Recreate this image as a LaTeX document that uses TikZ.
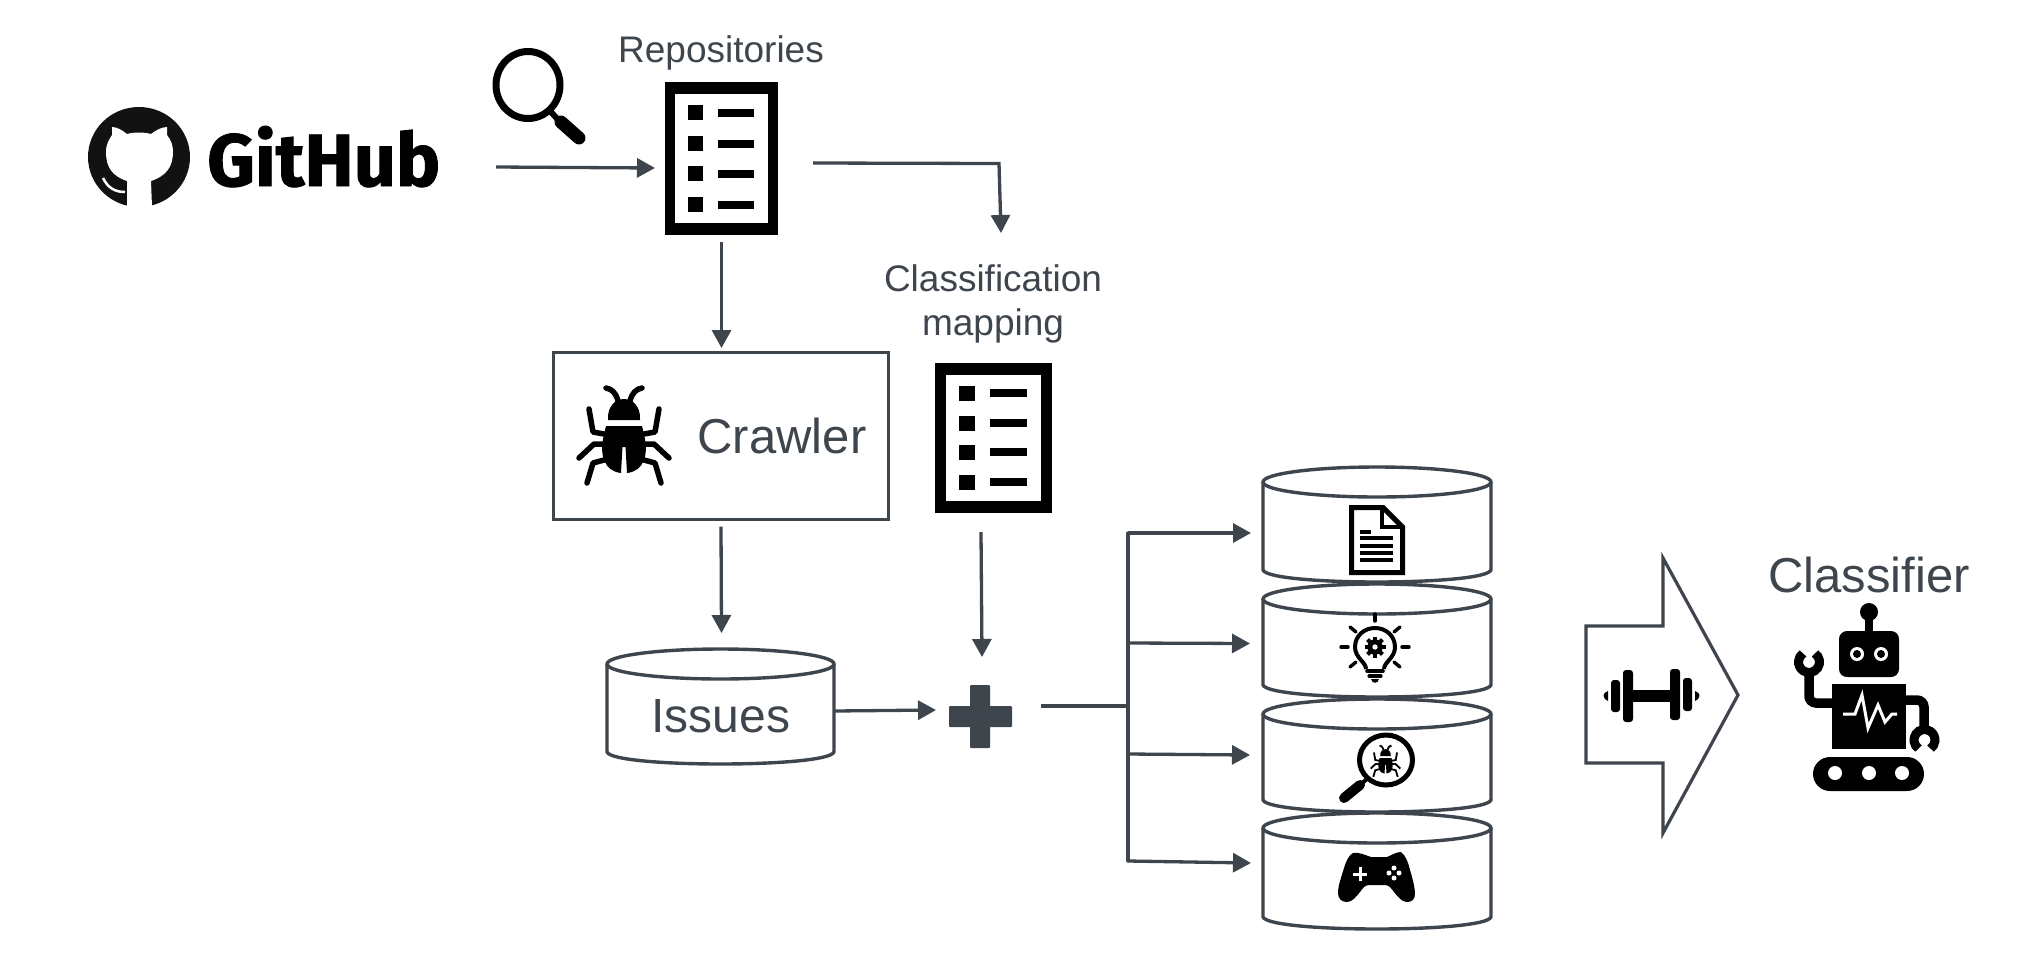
\documentclass[tikz,border=0pt]{standalone}
\usepackage{fontspec}
\usetikzlibrary{arrows.meta,calc}
\setmainfont{Liberation Sans}
\newfontfamily\ghfont[FakeBold=1.2]{Fira Sans Bold}
\definecolor{slate}{HTML}{3E454D}
\tikzset{
  conn/.style={draw=slate,line width=3.3pt,-{Triangle[length=18pt,width=19pt]}},
  plainline/.style={draw=slate,line width=3.3pt},
  cyl/.style={draw=slate,line width=3.4pt,fill=white,line join=round},
  lbl/.style={text=slate,inner sep=0pt,anchor=base,align=center},
  area/.style={inner sep=0pt,outer sep=0pt,draw=none},
  ink/.style={fill=black,draw=none}
}
% name, left, right, top, side end, bottom
\newcommand\cylinder[6]{%
  \path[cyl] (#2,{#4+15}) -- (#2,#5) .. controls ({#2+6},{#5+(#6-#5)*4/3}) and ({#3-6},{#5+(#6-#5)*4/3}) .. (#3,#5) -- (#3,{#4+15});
  \path[cyl] ({(#2+#3)/2},{#4+15}) ellipse [x radius={(#3-#2)/2},y radius=15];
  \node[area,minimum width={(#3-#2)*1pt},minimum height={(#6-#4)*1pt}] (#1) at ({(#2+#3)/2},{(#4+#6)/2}) {};
}
\newcommand\listicon[1]{%
  \begin{scope}[shift={(#1)}]
  \fill[black] (0,0) rectangle (113,153);
  \fill[white] (10,12) rectangle (103,141);
  \foreach \yy in {23,54,84,115}{
    \fill[black] (23,\yy) rectangle (38,{\yy+15});
    \fill[black] (53,{\yy+4}) rectangle (89,{\yy+12});
  }
  \end{scope}
}
\newcommand\bugicon{%
  \fill[black] (-16,-15) .. controls (-17,-28) and (-9,-36) .. (0,-36) .. controls (9,-36) and (17,-28) .. (16,-15) -- cycle;
  \fill[black] (-18,-9) -- (18,-9) -- (21,4) .. controls (24,20) and (20,36) .. (3,38) -- (1.5,12) -- (-1.5,12) -- (-3,38) .. controls (-20,36) and (-24,20) .. (-21,4) -- cycle;
  \foreach \s in {-1,1}{
    \draw[black,line width=5.5pt,line cap=round,line join=round]
      (\s*6,-34) .. controls (\s*8,-42) and (\s*12,-46) .. (\s*18,-47);
    \draw[black,line width=5.5pt,line cap=round,line join=round]
      (\s*35,-26) -- (\s*31,-3) -- (\s*20,-1);
    \draw[black,line width=5.5pt,line cap=round,line join=round]
      (\s*45,23) -- (\s*30,9) -- (\s*20,9);
    \draw[black,line width=5.5pt,line cap=round,line join=round]
      (\s*37,48) -- (\s*31,28) -- (\s*20,25);
  }
}
\begin{document}
\begin{tikzpicture}[x=1pt,y=-1pt]
\useasboundingbox (0,0) rectangle (2030,970);
% GitHub
\node[area,minimum width=352pt,minimum height=101pt] (github) at (264,157) {};
\fill[black!93] (139,157) ellipse [x radius=51,y radius=50];
\fill[white] (127,207) -- (127,181) .. controls (112,176) and (106,167) .. (106,152) .. controls (106,144) and (109,140) .. (112,135) -- (112,127) .. controls (118,127) and (123,131) .. (127,134) .. controls (134,132) and (144,132) .. (151,134) .. controls (155,131) and (161,127) .. (167,127) -- (167,135) .. controls (171,140) and (173,145) .. (173,152) .. controls (173,167) and (166,176) .. (151,181) -- (152,207) -- cycle;
\draw[white,line width=2.5pt] (103,178) .. controls (108,188) and (115,192) .. (125,192);
\node[inner sep=0pt,anchor=base west] (ghtext) at (207,186) {\resizebox{233pt}{!}{\ghfont GitHub}};
% magnifier
\draw[black,line width=7pt] (528,85) ellipse [x radius=32,y radius=33.5];
\draw[black,line width=6pt] (551,112) -- (561,123);
\draw[black,line width=13pt,line cap=round] (561,122) -- (579,138);
% repositories
\node[lbl,font=\fontsize{37}{40}\selectfont] (repolabel) at (721,62) {Repositories};
\listicon{665,82}
\node[area,minimum width=113pt,minimum height=153pt] (repos) at (721.5,158.5) {};
% crawler
\node[draw=slate,line width=3pt,minimum width=335pt,minimum height=167pt,inner sep=0pt] (crawler) at (721,435.5) {};
\begin{scope}[shift={(624,435)}] \bugicon \end{scope}
\node[lbl,font=\fontsize{49}{52}\selectfont] (crawlerlabel) at (782,453) {Crawler};
% mapping
\node[lbl,font=\fontsize{37}{44}\selectfont] (maplabel1) at (993,291) {Classification};
\node[lbl,font=\fontsize{37}{44}\selectfont] (maplabel2) at (993,335) {mapping};
\begin{scope}[shift={(935,363)}]
  \fill[black] (0,0) rectangle (117,150);
  \fill[white] (11,12) rectangle (106,138);
  \foreach \yy in {23,53,82,112}{
    \fill[black] (24,\yy) rectangle (40,{\yy+15});
    \fill[black] (55,{\yy+3}) rectangle (92,{\yy+11});
  }
\end{scope}
\node[area,minimum width=117pt,minimum height=150pt] (mapping) at (993.5,438) {};
% issues
\cylinder{issues}{607}{834}{649}{752}{764}
\node[lbl,font=\fontsize{48}{52}\selectfont] (issueslabel) at (721,732) {Issues};
% plus
\node[area,minimum width=63pt,minimum height=63pt] (plus) at (980.5,716.5) {};
\fill[slate,rounded corners=1pt] (970,685) rectangle (990,748);
\fill[slate,rounded corners=1pt] (949,706) rectangle (1012,727);
% datasets
\cylinder{docs}{1263}{1491}{467}{570}{582}
\cylinder{ideas}{1263}{1491}{584}{685}{697}
\cylinder{bugs}{1263}{1491}{699}{800}{812}
\cylinder{games}{1263}{1491}{813}{917}{929}
% doc icon
\draw[black,line width=5pt,line join=miter,fill=white] (1351.5,507.5) -- (1383,507.5) -- (1402.5,527) -- (1402.5,572.5) -- (1351.5,572.5) -- cycle;
\draw[black,line width=4.5pt] (1382,507) -- (1382,527) -- (1403,527);
\foreach \yy in {538,546,553,560}{\draw[black,line width=3.3pt] (1360,\yy) -- (1393,\yy);}
\draw[black,line width=3.3pt] (1360,532) -- (1371,532);
% bulb icon
\begin{scope}[shift={(1375,647)}]
  \draw[black,line width=4pt] (-9,22) .. controls (-9,15) and (-20,11) .. (-20,0) .. controls (-20,-11) and (-11,-19) .. (0,-19) .. controls (11,-19) and (20,-11) .. (20,0) .. controls (20,11) and (9,15) .. (9,22);
  \draw[black,line width=3.6pt,line cap=round] (-8,24) -- (8,24);
  \draw[black,line width=3.2pt,line cap=round] (-6,29) -- (6,29);
  \fill[black] (-4,32) -- (4,32) .. controls (3,37) and (-3,37) .. (-4,32) -- cycle;
  \foreach \a in {0,45,...,315}{\draw[black,line width=4pt] (\a:6) -- (\a:10.5);}
  \draw[black,line width=5pt] (0,0) circle [radius=5.5];
  \draw[black,line width=3.4pt,line cap=round] (0,-33) -- (0,-26);
  \draw[black,line width=3.4pt,line cap=round] (-34,0) -- (-27,0);
  \draw[black,line width=3.4pt,line cap=round] (27,0) -- (34,0);
  \draw[black,line width=3.4pt,line cap=round] (-25,-20) -- (-19,-15);
  \draw[black,line width=3.4pt,line cap=round] (25,-20) -- (19,-15);
  \draw[black,line width=3.4pt,line cap=round] (-25,20) -- (-19,15);
  \draw[black,line width=3.4pt,line cap=round] (25,20) -- (19,15);
\end{scope}
% bug search icon
\draw[black,line width=5pt] (1386,760) ellipse [x radius=26.5,y radius=25];
\draw[black,line width=4pt] (1368,778) -- (1360,785);
\draw[black,line width=10pt,line cap=round] (1360,785) -- (1344,798);
\begin{scope}[shift={(1385.5,761)},scale=0.33]
  \fill[black] (-16,-15) .. controls (-17,-28) and (-9,-36) .. (0,-36) .. controls (9,-36) and (17,-28) .. (16,-15) -- cycle;
  \fill[black] (-18,-9) -- (18,-9) -- (21,4) .. controls (24,20) and (20,36) .. (3,38) -- (1.5,12) -- (-1.5,12) -- (-3,38) .. controls (-20,36) and (-24,20) .. (-21,4) -- cycle;
  \foreach \s in {-1,1}{
    \draw[black,line width=1.8pt] (\s*6,-34) .. controls (\s*8,-42) and (\s*12,-46) .. (\s*18,-47);
    \draw[black,line width=1.8pt] (\s*35,-26) -- (\s*31,-3) -- (\s*20,-1);
    \draw[black,line width=1.8pt] (\s*45,23) -- (\s*30,9) -- (\s*20,9);
    \draw[black,line width=1.8pt] (\s*37,48) -- (\s*31,28) -- (\s*20,25);
  }
\end{scope}
% gamepad
\fill[black] (1353,853) .. controls (1359,852) and (1365,855) .. (1371,857) -- (1387,857) .. controls (1392,855) and (1396,852) .. (1401,852) .. controls (1406,856) and (1408,862) .. (1410,870) .. controls (1413,880) and (1415,888) .. (1415,894) .. controls (1415,900) and (1411,902) .. (1407,902) .. controls (1402,902) and (1398,897) .. (1394,892) .. controls (1391,888) and (1389,885) .. (1385,885) -- (1369,885) .. controls (1365,885) and (1363,888) .. (1360,892) .. controls (1356,897) and (1352,902) .. (1347,902) .. controls (1342,902) and (1338,899) .. (1338,893) .. controls (1338,886) and (1341,878) .. (1344,868) .. controls (1346,861) and (1349,855) .. (1353,853) -- cycle;
\draw[white,line width=3pt] (1353,874) -- (1367,874);
\draw[white,line width=3pt] (1360,867) -- (1360,881);
\foreach \dx/\dy in {5/0,-5/0,0/5,0/-5}{\fill[white] ({1394+\dx},{873+\dy}) circle [radius=2.5];}
% big arrow
\node[area,minimum width=154pt,minimum height=284pt] (train) at (1663,695) {};
\draw[slate,line width=3.2pt,line join=miter] (1586,626) -- (1663,626) -- (1663,558) -- (1738,695) -- (1663,833) -- (1663,763) -- (1586,763) -- cycle;
% dumbbell
\fill[black] (1632,690) rectangle (1672,702);
\fill[black,rounded corners=3pt] (1623,670) rectangle (1633,722);
\fill[black,rounded corners=3pt] (1670,669) rectangle (1680,720);
\fill[black,rounded corners=3pt] (1611,680) rectangle (1620,712);
\fill[black,rounded corners=3pt] (1683,678) rectangle (1692,711);
\fill[black] (1608,691) .. controls (1602,693) and (1602,698) .. (1608,701) -- cycle;
\fill[black] (1695,691) .. controls (1701,693) and (1701,698) .. (1695,701) -- cycle;
% classifier
\node[lbl,font=\fontsize{49}{52}\selectfont] (classifierlabel) at (1869,592) {Classifier};
\node[area,minimum width=145pt,minimum height=188pt] (robot) at (1867,697) {};
\fill[black] (1869,612) circle [radius=9];
\fill[black] (1865,615) rectangle (1873,635);
\fill[black,rounded corners=8pt] (1839,631) rectangle (1899,677);
\foreach \ex in {1857,1881}{
  \fill[white] (\ex,654) circle [radius=7];
  \fill[black] (\ex,654) circle [radius=4];
}
\fill[black] (1832,684) rectangle (1906,749);
\draw[white,line width=3pt,line join=miter] (1843,714) -- (1855,714) -- (1862,695) -- (1868,728) -- (1878,705) -- (1885,722) -- (1892,714) -- (1897,714);
\fill[black,rounded corners=17pt] (1813,757) rectangle (1924,791);
\foreach \hx in {1835,1869,1902}{\fill[white] (\hx,773) circle [radius=7];}
% robot arms
\draw[black,line width=9.5pt,rounded corners=7pt] (1834,703) -- (1809,703) -- (1809,672);
\draw[black,line width=9.5pt,rounded corners=7pt] (1904,700) -- (1924,700) -- (1924,729);
\draw[black,line width=9pt] (1809,662) ++(-55:10.5) arc [start angle=-55,end angle=235,radius=10.5];
\draw[black,line width=9pt] (1924.5,740) ++(125:10.5) arc [start angle=125,end angle=415,radius=10.5];
% connectors
\draw[conn] ([shift={(56,10)}]github.east) -- ([shift={(-10,9.5)}]repos.west);
\draw[conn] ([shift={(0,7)}]repos.south) -- ([shift={(0.5,-2.5)}]crawler.north);
\draw[conn] ([shift={(35,4.5)}]repos.east) -- ++(186,0.5) -- ([shift={(7.5,-130)}]mapping.north);
\draw[conn] ([shift={(0,6)}]crawler.south) -- ([shift={(1,-16)}]issues.north);
\draw[conn] ([shift={(-12.5,19)}]mapping.south) -- ([shift={(1.5,-28)}]plus.north);
\draw[conn] ([shift={(0,4.5)}]issues.east) -- ([shift={(-13,-6.5)}]plus.west);
\coordinate (hub) at (1128,706);
\coordinate (trunktop) at (1128,533);
\coordinate (trunkbot) at (1128,861);
\draw[plainline] ([shift={(29,-10.5)}]plus.east) -- (hub);
\draw[plainline,line cap=round] (trunktop) -- (trunkbot);
\draw[conn] (trunktop) -- ([shift={(-12,8.5)}]docs.west);
\draw[conn] (hub |- 0,643) -- ([shift={(-13,3)}]ideas.west);
\draw[conn] (hub |- 0,754) -- ([shift={(-13,-0.5)}]bugs.west);
\draw[conn] (trunkbot) -- ([shift={(-12,-8)}]games.west);
\end{tikzpicture}
\end{document}
